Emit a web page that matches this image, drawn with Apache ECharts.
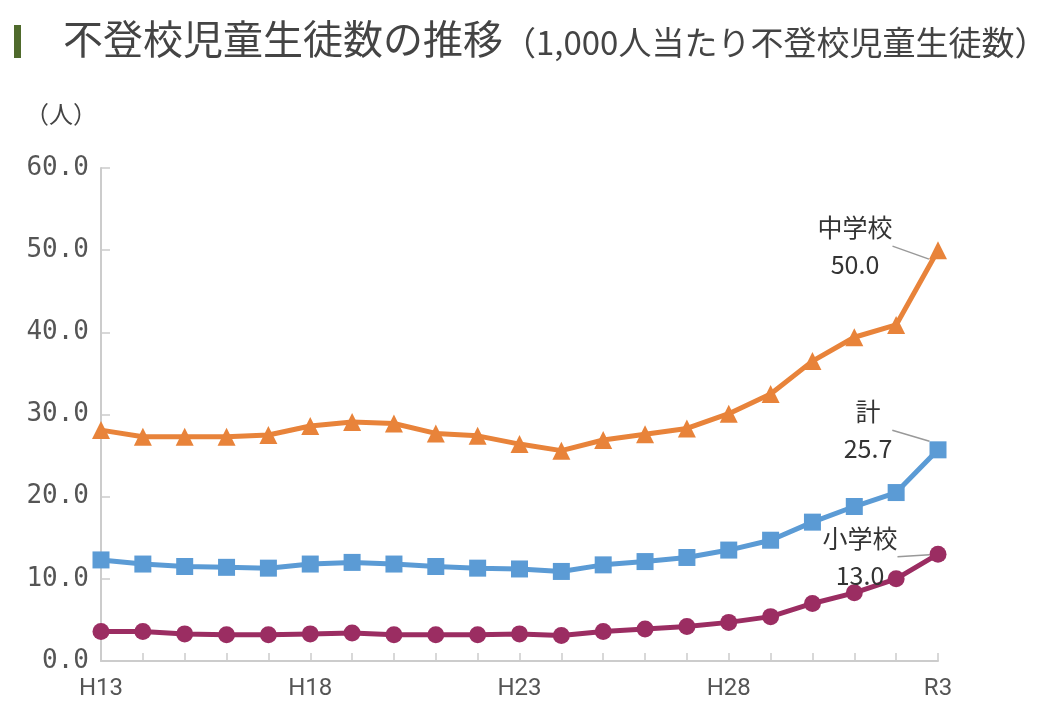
<!DOCTYPE html>
<html>
<head>
<meta charset="utf-8">
<script src="https://cdn.jsdelivr.net/npm/echarts@6/dist/echarts.min.js"></script>
<style>
  html, body { margin: 0; padding: 0; background: #fff; }
  #chart { width: 1041px; height: 727px; }
</style>
</head>
<body>
<div id="chart"></div>
<script>
// 年度
const years = ['H13','H14','H15','H16','H17','H18','H19','H20','H21','H22',
  'H23','H24','H25','H26','H27','H28','H29','H30','R1','R2','R3'];

// 1,000人当たり不登校児童生徒数
const juniorHigh = [28.1,27.3,27.3,27.3,27.5,28.6,29.1,28.9,27.7,27.4,
  26.4,25.6,26.9,27.6,28.3,30.1,32.5,36.5,39.4,40.9,50.0];
const total = [12.3,11.8,11.5,11.4,11.3,11.8,12.0,11.8,11.5,11.3,
  11.2,10.9,11.7,12.1,12.6,13.5,14.7,16.9,18.8,20.5,25.7];
const elementary = [3.6,3.6,3.3,3.2,3.2,3.3,3.4,3.2,3.2,3.2,
  3.3,3.1,3.6,3.9,4.2,4.7,5.4,7.0,8.3,10.0,13.0];

const yTicks = [0, 10, 20, 30, 40, 50, 60];

const jp = '"Noto Sans CJK JP", sans-serif';
const mono = '"DejaVu Sans Mono", monospace';

// 最終年度だけにラベルを付ける
function withEndLabel(values, name, fmt) {
  return values.map((v, i) => {
    if (i !== values.length - 1) return v;
    return {
      value: v,
      label: {
        show: true,
        formatter: name + '\n' + fmt(v),
        color: '#333',
        fontSize: 25,
        lineHeight: 37,
        fontFamily: jp,
        align: 'center',
        verticalAlign: 'middle'
      }
    };
  });
}

function series(name, data, color, symbol, size, fmt, dx, dy) {
  return {
    name: name,
    type: 'line',
    data: withEndLabel(data, name, fmt),
    symbol: symbol,
    symbolSize: size,
    lineStyle: { color: color, width: 5 },
    itemStyle: { color: color },
    label: { show: false },
    labelLine: { show: true, lineStyle: { color: '#999', width: 1.5 } },
    labelLayout: { dx: dx, dy: dy, moveOverlap: false },
    z: 3
  };
}

const chart = echarts.init(document.getElementById('chart'));
chart.setOption({
  animation: false,
  backgroundColor: '#fff',
  title: {
    left: 58,
    top: 14,
    text: '{a|不登校児童生徒数の推移}{b|（1,000人当たり不登校児童生徒数）}',
    textStyle: {
      rich: {
        a: { fontSize: 40, color: '#444', fontFamily: jp, fontWeight: 'normal' },
        b: { fontSize: 33, color: '#444', fontFamily: jp, fontWeight: 'normal', padding: [6, 0, 0, 0] }
      }
    }
  },
  graphic: [{
    type: 'rect',
    left: 14,
    top: 25,
    shape: { width: 7, height: 33 },
    style: { fill: '#4f6a2c' }
  }],
  grid: { left: 101, right: 103, top: 168, bottom: 66, containLabel: false },
  xAxis: {
    type: 'category',
    data: years,
    boundaryGap: false,
    axisLine: { lineStyle: { color: '#cccccc', width: 2 } },
    axisTick: { inside: true, length: 8, interval: 0, lineStyle: { color: '#cccccc', width: 1.5 } },
    axisLabel: {
      interval: 4,
      color: '#555',
      fontSize: 24,
      fontFamily: 'Roboto, sans-serif',
      margin: 16
    }
  },
  yAxis: {
    type: 'value',
    min: yTicks[0],
    max: yTicks[yTicks.length - 1],
    interval: 10,
    name: '（人）',
    nameLocation: 'end',
    nameGap: 42,
    nameTextStyle: { align: 'right', fontSize: 24, color: '#444', fontFamily: jp, padding: [0, 4, 0, 0] },
    splitLine: { show: false },
    axisLine: { show: true, lineStyle: { color: '#cccccc', width: 2 } },
    axisTick: { show: true, inside: true, length: 9, lineStyle: { color: '#cccccc', width: 1.5 } },
    axisLabel: {
      color: '#555',
      fontSize: 26,
      fontFamily: mono,
      margin: 12,
      formatter: v => v.toFixed(1)
    }
  },
  series: [
    series('中学校', juniorHigh, '#e8833a', 'triangle', 18, v => v.toFixed(1), -83, 10),
    series('計', total, '#5b9bd5', 'rect', 17, v => v.toFixed(1), -70, -6),
    series('小学校', elementary, '#9b2d62', 'circle', 17, v => v.toFixed(1), -78, 16)
  ]
});
</script>
</body>
</html>
